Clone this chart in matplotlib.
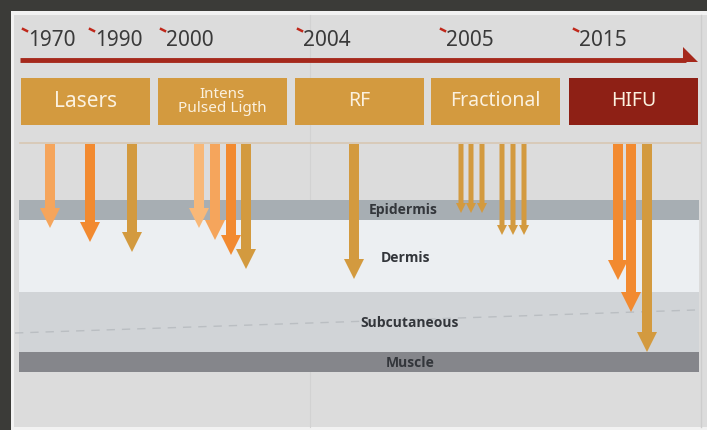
import matplotlib.pyplot as plt
from matplotlib.patches import Rectangle

plt.rcParams['font.family'] = ['Noto Sans', 'DejaVu Sans']

# timeline
years = ['1970', '1990', '2000', '2004', '2005', '2015']
year_x = [28, 95, 166, 303, 446, 579]

# technology boxes
categories = ['Lasers', 'Intens\nPulsed Ligth', 'RF', 'Fractional', 'HIFU']
box_left = [21, 158, 295, 431, 569]
box_colors = ['#d39a3f', '#d39a3f', '#d39a3f', '#d39a3f', '#8e2015']
box_fontsize = [15, 11, 14, 14, 14]

# skin layers (top, bottom in pixel depth)
layers = ['Epidermis', 'Dermis', 'Subcutaneous', 'Muscle']
layer_top = [200, 220, 292, 352]
layer_bottom = [220, 292, 352, 372]
layer_colors = ['#a7aeb3', '#eceff2', '#d1d4d7', '#85868b']
label_y = [210, 258, 323, 363]
label_x = [403, 405, 410, 410]

# penetration arrows
arrow_x = [50, 90, 132, 199, 215, 231, 246, 354,
           461, 471, 482, 502, 513, 524, 618, 631, 647]
arrow_tip = [228, 242, 252, 228, 240, 255, 269, 279,
             213, 213, 213, 235, 235, 235, 280, 312, 352]
arrow_color = ['#f5a55c', '#f28a30', '#d39a3f', '#f8b878', '#f5a55c', '#f28a30', '#d39a3f', '#d39a3f',
               '#d39a3f', '#d39a3f', '#d39a3f', '#d39a3f', '#d39a3f', '#d39a3f', '#f28a30', '#f28a30', '#d39a3f']
arrow_w = [10, 10, 10, 10, 10, 10, 10, 10,
           5, 5, 5, 5, 5, 5, 10, 10, 10]

fig = plt.figure(figsize=(7.07, 4.30), dpi=100)
fig.patch.set_facecolor('#3b3b38')
ax = fig.add_axes([0, 0, 1, 1])
ax.set_xlim(0, 707)
ax.set_ylim(430, 0)
ax.axis('off')

# panel
ax.add_patch(Rectangle((11, 11), 700, 430, facecolor='#f2f2f2', edgecolor='none', zorder=0))
ax.add_patch(Rectangle((14, 15), 700, 412, facecolor='#dcdcdc', edgecolor='none', zorder=0))
ax.plot([701, 701], [15, 427], color='#cdcdcd', lw=1, zorder=0.5)
ax.plot([310, 310], [15, 427], color='#d2d2d2', lw=0.8, zorder=0.5)

# timeline arrow
ax.plot([20, 686], [60, 60], color='#a5281b', lw=3.5, solid_capstyle='butt')
ax.fill([683, 698, 683], [47, 62, 62], color='#a5281b', lw=0)
for y, x in zip(years, year_x):
    ax.text(x, 40, y, fontsize=15, color='#3a3a3a', ha='left', va='center')
    ax.plot([x - 5, x - 1], [29, 31], color='#c0281b', lw=1.8)

# boxes
for cat, left, col, fs in zip(categories, box_left, box_colors, box_fontsize):
    ax.add_patch(Rectangle((left, 78), 129, 47, facecolor=col, edgecolor='none', zorder=2))
    ax.text(left + 64.5, 101.5, cat, fontsize=fs, color='#fbf1df', ha='center', va='center',
            linespacing=0.9, zorder=3)

ax.plot([20, 700], [143, 143], color='#d8c7b2', lw=1.2)

# layers
for top, bot, col in zip(layer_top, layer_bottom, layer_colors):
    ax.add_patch(Rectangle((19, top), 680, bot - top, facecolor=col, edgecolor='none', zorder=1))
ax.plot([15, 695], [333, 310], color='#babec2', lw=1, ls=(0, (6, 5)), zorder=1.5)
for name, lx, ly in zip(layers, label_x, label_y):
    ax.text(lx, ly, name, fontsize=10, fontweight='bold', family=['Open Sans', 'DejaVu Sans'],
            color='#33363b', ha='center', va='center', zorder=2)

# arrows
for x, tip, col, w in zip(arrow_x, arrow_tip, arrow_color, arrow_w):
    ax.arrow(x, 144, 0, tip - 144, width=w, head_width=2 * w, head_length=2 * w,
             length_includes_head=True, facecolor=col, edgecolor='none', zorder=3)

fig.savefig('out.png', dpi=100, facecolor=fig.get_facecolor())
